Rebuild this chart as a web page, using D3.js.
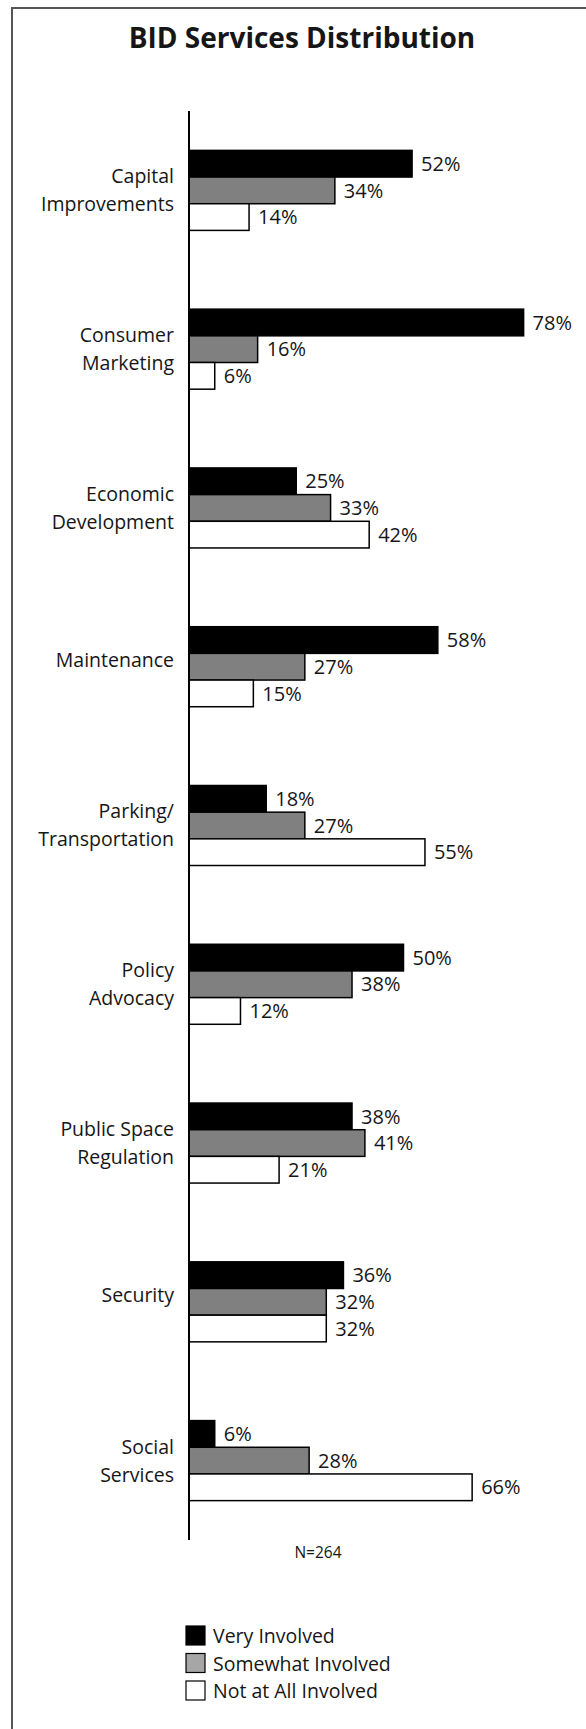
<!DOCTYPE html>
<html>
<head>
<meta charset="utf-8">
<script src="https://cdn.jsdelivr.net/npm/d3@7"></script>
<style>
  body { margin: 0; background: #fff; }
  text { font-family: "Open Sans", Lato, sans-serif; fill: #161616; }
</style>
</head>
<body>
<svg id="chart"></svg>
<script>
// values (percent of BIDs)
const categories = [
  ["Capital", "Improvements"],
  ["Consumer", "Marketing"],
  ["Economic", "Development"],
  ["Maintenance"],
  ["Parking/", "Transportation"],
  ["Policy", "Advocacy"],
  ["Public Space", "Regulation"],
  ["Security"],
  ["Social", "Services"]
];
const seriesNames = ["Very Involved", "Somewhat Involved", "Not at All Involved"];
const veryInvolved = [52, 78, 25, 58, 18, 50, 38, 36, 6];
const somewhatInvolved = [34, 16, 33, 27, 27, 38, 41, 32, 28];
const notInvolved = [14, 6, 42, 15, 55, 12, 21, 32, 66];
const sampleNote = "N=264";

const width = 586;
const height = 1729;
const barFill = ["#000000", "#808080", "#ffffff"];
const swatchFill = ["#000000", "#a6a6a6", "#ffffff"];

const rows = categories.map((c, i) => ({
  key: c.join(" "),
  lines: c,
  values: [veryInvolved[i], somewhatInvolved[i], notInvolved[i]]
}));

const svg = d3.select("#chart").attr("width", width).attr("height", height);

// frame (top + left edge only, like the cropped original)
svg.append("path")
  .attr("d", `M12,${height} L12,8 L${width},8`)
  .attr("fill", "none")
  .attr("stroke", "#555")
  .attr("stroke-width", 2);

svg.append("text")
  .attr("x", 302)
  .attr("y", 48)
  .attr("text-anchor", "middle")
  .attr("font-weight", "bold")
  .attr("font-size", 28)
  .text("BID Services Distribution");

const y = d3.scaleBand()
  .domain(rows.map(d => d.key))
  .range([111, 1540])
  .paddingInner(0.496)
  .paddingOuter(0.248);

const ySub = d3.scaleBand()
  .domain(d3.range(3))
  .range([0, y.bandwidth()]);

const x = d3.scaleLinear()
  .domain([0, 100])
  .range([189, 618]);

const groups = svg.selectAll(".group")
  .data(rows)
  .enter().append("g")
  .attr("class", "group")
  .attr("transform", d => `translate(0,${y(d.key)})`);

groups.selectAll("rect")
  .data(d => d.values)
  .enter().append("rect")
  .attr("x", x(0))
  .attr("y", (v, i) => ySub(i))
  .attr("width", v => x(v) - x(0))
  .attr("height", ySub.bandwidth())
  .attr("fill", (v, i) => barFill[i])
  .attr("stroke", "#000")
  .attr("stroke-width", 1.5);

groups.selectAll(".val")
  .data(d => d.values)
  .enter().append("text")
  .attr("class", "val")
  .attr("x", v => x(v) + 9)
  .attr("y", (v, i) => ySub(i) + ySub.bandwidth() / 2)
  .attr("dy", "0.36em")
  .attr("font-size", 20)
  .text(v => v + "%");

// category labels, right aligned left of the axis
groups.each(function (d) {
  const n = d.lines.length;
  const mid = y.bandwidth() / 2;
  const t = d3.select(this).append("text")
    .attr("text-anchor", "end")
    .attr("font-size", 19.5);
  d.lines.forEach((line, i) => {
    t.append("tspan")
      .attr("x", 174)
      .attr("y", mid + (i - (n - 1) / 2) * 28 + (n > 1 ? 7 : 0))
      .text(line);
  });
});

// vertical axis line
svg.append("line")
  .attr("x1", x(0)).attr("x2", x(0))
  .attr("y1", 111).attr("y2", 1540)
  .attr("stroke", "#000")
  .attr("stroke-width", 2);

svg.append("text")
  .attr("x", 318)
  .attr("y", 1558)
  .attr("text-anchor", "middle")
  .attr("font-size", 15.5)
  .text(sampleNote);

// legend
const legend = svg.selectAll(".legend")
  .data(seriesNames)
  .enter().append("g")
  .attr("class", "legend")
  .attr("transform", (d, i) => `translate(186,${1626 + i * 27.5})`);

legend.append("rect")
  .attr("width", 19)
  .attr("height", 19)
  .attr("fill", (d, i) => swatchFill[i])
  .attr("stroke", "#000")
  .attr("stroke-width", 1.2);

legend.append("text")
  .attr("x", 27)
  .attr("y", 17)
  .attr("font-size", 19.5)
  .text(d => d);
</script>
</body>
</html>
